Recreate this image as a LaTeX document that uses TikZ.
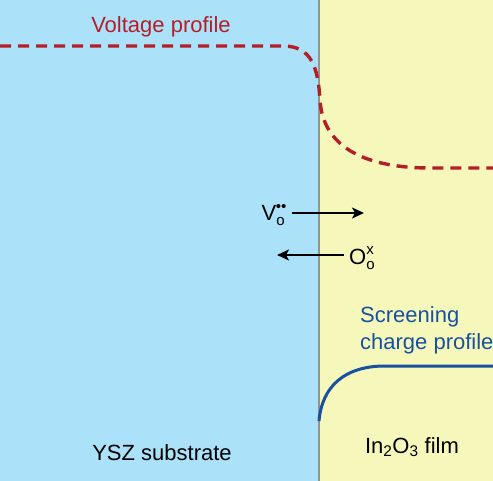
\documentclass[tikz,border=0pt]{standalone}
\usepackage{fontspec}
\setmainfont{Liberation Sans}
\usetikzlibrary{arrows.meta,calc}

\definecolor{yszblue}{RGB}{171,226,250}
\definecolor{filmyellow}{RGB}{245,248,186}
\definecolor{voltred}{RGB}{180,30,40}
\definecolor{screenblue}{RGB}{25,80,160}

\newcommand{\smallscr}[1]{\hbox{\fontsize{15}{15}\selectfont #1}}

\tikzset{
  hop/.style={black,line width=1.6pt,-{Stealth[length=12pt,width=11pt,inset=3pt]}},
  label/.style={inner sep=0pt,anchor=base}
}

\begin{document}
\begin{tikzpicture}[x=1pt,y=-1pt,font=\fontsize{22}{27}\selectfont]
\useasboundingbox (0,0) rectangle (493,481);
% substrate and film
\fill[yszblue] (0,0) rectangle (319,481);
\fill[filmyellow] (319,0) rectangle (493,481);
\draw[gray!85,line width=1.6pt] (319,0) -- (319,481);

% voltage profile
\draw[voltred,line width=3.4pt,dash pattern=on 11pt off 7pt]
  (0,46) -- (283,46) .. controls (312,46) and (318,68) .. (320,100)
  .. controls (323,150) and (370,168) .. (430,168) -- (493,168);
\node[label,voltred] (volt) at (161,33) {Voltage profile};

% screening charge
\draw[screenblue,line width=3pt]
  (319,421) .. controls (322,386) and (345,366) .. (385,366) -- (493,366);
\node[screenblue,inner sep=0pt,align=left,anchor=north west] (scr) at (360,306) {Screening\\charge profile};

% defects
\node[anchor=east,inner sep=5pt] (vac) at (292,215) {$\hbox{V}^{\smallscr{\kern-.5pt••}}_{\smallscr{o}}$};
\coordinate (vacR) at (364,213);
\draw[hop] (vac.east |- vacR) -- (vacR);

\node[anchor=west,inner sep=5pt] (oxy) at (344,258) {$\hbox{O}^{\smallscr{x}}_{\smallscr{o}}$};
\coordinate (oxyL) at (277,255);
\draw[hop] (oxy.west |- oxyL) -- (oxyL);

% layer names
\node[label] (ysz) at (162,460) {YSZ substrate};
\node[label] (film) at (412,453) {In\textsubscript{2}O\textsubscript{3} film};
\end{tikzpicture}
\end{document}
